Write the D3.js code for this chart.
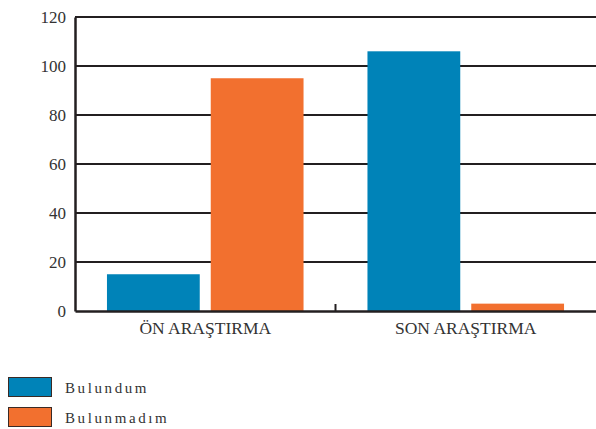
<!DOCTYPE html>
<html>
<head>
<meta charset="utf-8">
<script src="https://cdn.jsdelivr.net/npm/d3@7"></script>
<style>
  body { margin: 0; background: #fff; }
</style>
</head>
<body>
<div id="chart-area"></div>
<script>
var categories = ["ÖN ARAŞTIRMA", "SON ARAŞTIRMA"];
var seriesNames = ["Bulundum", "Bulunmadım"];
var bulundum = [15, 106];
var bulunmadim = [95, 3];
var yTicks = [0, 20, 40, 60, 80, 100, 120];

var colors = ["#0083b8", "#f2702f"];
var ink = "#231f20";

var svg = d3.select("#chart-area")
            .append("svg")
            .attr("width", 596)
            .attr("height", 429);

var plotLeft = 75, plotRight = 596, plotTop = 17, plotBottom = 311;

var x = d3.scaleBand()
          .domain(categories)
          .range([plotLeft, plotRight])
          .padding(0);

var xInner = d3.scaleBand()
               .domain(seriesNames)
               .range([0, x.bandwidth()])
               .paddingInner(0.106)
               .paddingOuter(0.308);

var y = d3.scaleLinear()
          .domain([0, 120])
          .range([plotBottom, plotTop]);

// gridlines
svg.append("g")
   .selectAll("line")
   .data(yTicks.filter((d) => d > 0))
   .enter()
   .append("line")
   .attr("x1", plotLeft)
   .attr("x2", plotRight)
   .attr("y1", (d) => y(d))
   .attr("y2", (d) => y(d))
   .attr("stroke", ink)
   .attr("stroke-width", 2);

// bars
var data = [];
categories.forEach((c, i) => {
    data.push({ cat: c, name: seriesNames[0], value: bulundum[i] });
    data.push({ cat: c, name: seriesNames[1], value: bulunmadim[i] });
});

svg.append("g")
   .selectAll("rect")
   .data(data)
   .enter()
   .append("rect")
   .attr("x", (d) => x(d.cat) + xInner(d.name))
   .attr("width", xInner.bandwidth())
   .attr("y", (d) => y(d.value))
   .attr("height", (d) => y(0) - y(d.value))
   .attr("fill", (d) => colors[seriesNames.indexOf(d.name)]);

// y axis
var yAxisCall = d3.axisLeft(y)
                  .tickValues(yTicks)
                  .tickSize(0)
                  .tickPadding(9);

var yAxis = svg.append("g")
               .attr("transform", "translate(" + plotLeft + ",0)")
               .call(yAxisCall);
yAxis.select(".domain")
     .attr("stroke", ink)
     .attr("stroke-width", 2.5);
yAxis.selectAll("text")
     .attr("font-family", "Liberation Serif, serif")
     .attr("font-size", "17px")
     .attr("fill", "#333");

// x axis
var xAxisCall = d3.axisBottom(x)
                  .tickSize(0)
                  .tickPadding(11);

var xAxis = svg.append("g")
               .attr("transform", "translate(0," + plotBottom + ")")
               .call(xAxisCall);
xAxis.select(".domain")
     .attr("stroke", ink)
     .attr("stroke-width", 2.5);
xAxis.selectAll("text")
     .attr("font-family", "Liberation Serif, serif")
     .attr("font-size", "17.5px")
     .attr("fill", "#333");

// divider tick between groups
svg.append("line")
   .attr("x1", x(categories[1]))
   .attr("x2", x(categories[1]))
   .attr("y1", plotBottom - 7)
   .attr("y2", plotBottom)
   .attr("stroke", ink)
   .attr("stroke-width", 2);

// legend
var legend = svg.append("g")
                .attr("transform", "translate(8, 377)");

var items = legend.selectAll("g")
                  .data(seriesNames)
                  .enter()
                  .append("g")
                  .attr("transform", (d, i) => "translate(0," + (i * 30) + ")");

items.append("rect")
     .attr("x", 0.5)
     .attr("y", 0.5)
     .attr("width", 43)
     .attr("height", 19)
     .attr("fill", (d, i) => colors[i])
     .attr("stroke", "#3a2a25")
     .attr("stroke-width", 1);

items.append("text")
     .attr("x", 57)
     .attr("y", 16)
     .attr("font-family", "Liberation Serif, serif")
     .attr("font-size", "15px")
     .attr("letter-spacing", "2.6px")
     .attr("fill", "#333")
     .text((d) => d);
</script>
</body>
</html>
